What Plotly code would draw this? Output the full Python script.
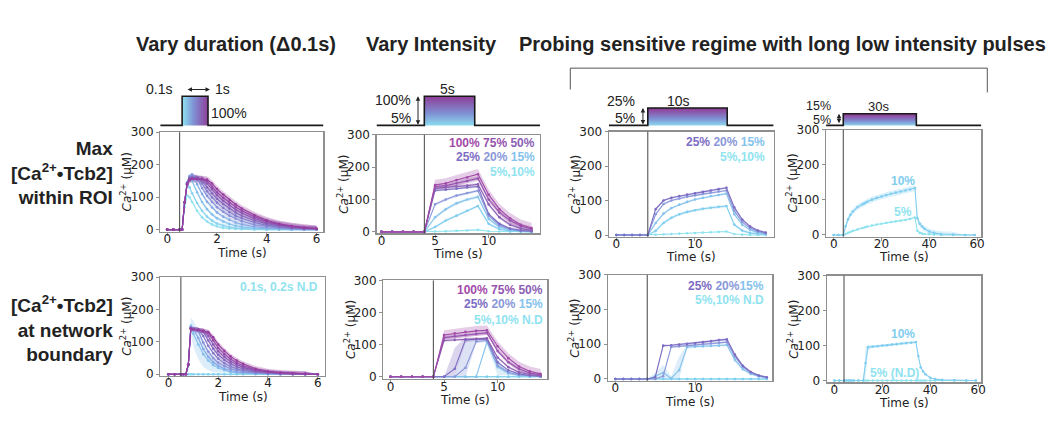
import numpy as np
import plotly.graph_objects as go

W, H = 1056, 442

# ======================= DATA =======================
# --- Vary duration: time grid (s) ---
t_dur = [0, 0.25, 0.5, 0.6, 0.7, 0.8, 0.9, 1.0, 1.2, 1.4, 1.6, 1.8, 2.0, 2.25, 2.5, 2.75, 3.0, 3.5, 4.0, 4.5, 5.0, 5.5, 6.0]
dur_names = ["0.1s", "0.2s", "0.3s", "0.4s", "0.5s", "0.6s", "0.7s", "0.8s", "0.9s", "1.0s"]

# Max within ROI
roi_d01 = [0, 0, 0, 0, 70, 105, 100, 85, 58, 38, 25, 16, 10, 5, 3, 2, 1, 0, 0, 0, 0, 0, 0]
roi_d02 = [0, 0, 0, 0, 80, 140, 130, 112, 82, 58, 40, 28, 19, 12, 7, 4, 3, 1, 0, 0, 0, 0, 0]
roi_d03 = [0, 0, 0, 0, 85, 145, 165, 150, 115, 85, 63, 47, 35, 25, 17, 12, 8, 4, 2, 1, 0, 0, 0]
roi_d04 = [0, 0, 0, 0, 85, 145, 165, 170, 140, 110, 86, 68, 53, 40, 30, 22, 16, 9, 5, 2, 1, 0, 0]
roi_d05 = [0, 0, 0, 0, 85, 145, 162, 167, 158, 128, 104, 85, 69, 55, 43, 34, 26, 15, 9, 5, 3, 1, 1]
roi_d06 = [0, 0, 0, 0, 85, 143, 160, 163, 160, 142, 118, 99, 83, 67, 54, 43, 35, 22, 13, 8, 4, 2, 1]
roi_d07 = [0, 0, 0, 0, 85, 142, 158, 160, 160, 152, 130, 112, 95, 79, 65, 53, 43, 28, 18, 11, 6, 3, 2]
roi_d08 = [0, 0, 0, 0, 84, 140, 156, 158, 158, 157, 142, 124, 106, 89, 75, 62, 51, 34, 22, 14, 8, 4, 2]
roi_d09 = [0, 0, 0, 0, 84, 140, 155, 157, 157, 156, 150, 132, 115, 98, 83, 70, 58, 40, 26, 16, 10, 5, 3]
roi_d10 = [0, 0, 0, 0, 83, 138, 153, 155, 155, 155, 154, 142, 125, 108, 92, 78, 65, 45, 29, 18, 11, 6, 3]
roi_dur_sd = [4, 5, 6, 6, 7, 8, 8, 9, 10, 10]

# At network boundary
bnd_d01 = [0] * 23
bnd_d02 = [0] * 23
bnd_d03 = [0, 0, 0, 0, 0, 30, 150, 125, 92, 62, 42, 28, 19, 12, 7, 4, 3, 1, 0, 0, 0, 0, 0]
bnd_d04 = [0, 0, 0, 0, 0, 30, 145, 140, 112, 78, 54, 37, 26, 17, 11, 7, 5, 2, 1, 0, 0, 0, 0]
bnd_d05 = [0, 0, 0, 0, 0, 30, 145, 140, 133, 98, 70, 50, 36, 25, 17, 12, 8, 4, 2, 1, 0, 0, 0]
bnd_d06 = [0, 0, 0, 0, 0, 30, 143, 140, 138, 118, 88, 65, 48, 34, 24, 17, 12, 6, 3, 1, 1, 0, 0]
bnd_d07 = [0, 0, 0, 0, 0, 30, 142, 140, 138, 131, 104, 79, 60, 44, 32, 23, 17, 9, 4, 2, 1, 0, 0]
bnd_d08 = [0, 0, 0, 0, 0, 30, 141, 139, 137, 134, 118, 92, 71, 53, 39, 29, 21, 11, 6, 3, 1, 1, 0]
bnd_d09 = [0, 0, 0, 0, 0, 30, 140, 139, 137, 134, 128, 104, 81, 62, 47, 35, 26, 14, 7, 4, 2, 1, 0]
bnd_d10 = [0, 0, 0, 0, 0, 30, 140, 138, 136, 133, 130, 114, 92, 72, 55, 42, 32, 17, 9, 5, 2, 1, 0]
bnd_d03_sd = [0, 0, 0, 0, 0, 30, 25, 40, 45, 40, 30, 22, 15, 8, 4, 2, 1, 0, 0, 0, 0, 0, 0]
bnd_dur_sd = [0, 0, bnd_d03_sd, 6, 6, 6, 6, 7, 7, 8]

# --- Vary intensity (5 s pulse) ---
t_int = [0, 1, 2, 3, 4, 5, 6, 7, 8, 9, 10, 11, 12, 13, 14]
int_names = ["5%", "10%", "15%", "20%", "25%", "50%", "75%", "100%"]
roi_i05 = [0, 0, 0, 0, 0, 1, 2, 3, 4, 6, 2, 1, 0, 0, 0]
roi_i10 = [0, 0, 0, 0, 0, 15, 35, 50, 65, 80, 25, 8, 3, 1, 0]
roi_i15 = [0, 0, 0, 0, 0, 45, 70, 88, 100, 108, 40, 15, 6, 2, 1]
roi_i20 = [0, 0, 0, 0, 0, 85, 100, 112, 120, 127, 50, 20, 8, 3, 1]
roi_i25 = [0, 0, 0, 0, 0, 128, 130, 133, 137, 140, 55, 25, 10, 4, 2]
roi_i50 = [0, 0, 0, 0, 0, 135, 137, 140, 143, 147, 85, 45, 22, 10, 5]
roi_i75 = [0, 0, 0, 0, 0, 140, 143, 150, 157, 165, 100, 60, 35, 18, 9]
roi_i100 = [0, 0, 0, 0, 0, 145, 150, 160, 168, 178, 115, 70, 42, 22, 12]
roi_int_sd = [1, 4, 5, 4, 4, 5, 8, 16]

bnd_i05 = [0] * 15
bnd_i10 = [0] * 15
bnd_i15 = [0, 0, 0, 0, 0, 0, 0, 0, 0, 108, 30, 10, 4, 2, 1]
bnd_i20 = [0, 0, 0, 0, 0, 0, 0, 28, 110, 113, 35, 14, 6, 3, 1]
bnd_i25 = [0, 0, 0, 0, 0, 0, 25, 115, 117, 118, 45, 20, 9, 4, 2]
bnd_i50 = [0, 0, 0, 0, 0, 113, 115, 117, 118, 120, 60, 30, 14, 7, 3]
bnd_i75 = [0, 0, 0, 0, 0, 122, 126, 130, 133, 137, 80, 45, 24, 12, 6]
bnd_i100 = [0, 0, 0, 0, 0, 130, 135, 140, 143, 145, 95, 58, 32, 17, 9]
bnd_i15_sd = [0, 0, 0, 0, 0, 0, 0, 0, 0, 8, 25, 5, 2, 1, 0]
bnd_i20_sd = [0, 0, 0, 0, 0, 0, 0, 85, 6, 5, 4, 2, 1, 1, 0]
bnd_i25_sd = [0, 0, 0, 0, 0, 0, 65, 8, 4, 4, 3, 2, 1, 1, 0]
bnd_int_sd = [0, 0, bnd_i15_sd, bnd_i20_sd, bnd_i25_sd, 4, 6, 15]

# --- Long 10 s low-intensity pulses ---
t_long = [0, 1, 2, 3, 4, 5, 6, 7, 8, 9, 10, 11, 12, 13, 14, 15, 16, 17, 18, 19]
long_names = ["5%", "10%", "15%", "20%", "25%"]
roi_l05 = [0, 0, 0, 0, 0, 1, 2, 3, 4, 5, 6, 7, 8, 9, 10, 3, 1, 0, 0, 0]
roi_l10 = [0, 0, 0, 0, 0, 12, 35, 50, 60, 67, 72, 76, 79, 82, 84, 30, 13, 6, 3, 1]
roi_l15 = [0, 0, 0, 0, 0, 35, 62, 78, 88, 96, 103, 108, 113, 116, 120, 60, 30, 15, 7, 3]
roi_l20 = [0, 0, 0, 0, 0, 60, 90, 100, 106, 111, 115, 119, 123, 126, 129, 70, 38, 20, 10, 5]
roi_l25 = [0, 0, 0, 0, 0, 75, 100, 108, 113, 117, 121, 125, 129, 133, 137, 80, 45, 25, 13, 7]
roi_long_sd = [1, 4, 3, 3, 3]

bnd_l05 = [0] * 20
bnd_l10 = [0] * 20
bnd_l15 = [0, 0, 0, 0, 0, 8, 18, 2, 25, 92, 93, 94, 95, 96, 98, 55, 28, 14, 7, 3]
bnd_l20 = [0, 0, 0, 0, 0, 0, 8, 92, 94, 96, 98, 100, 102, 104, 106, 65, 35, 18, 9, 4]
bnd_l25 = [0, 0, 0, 0, 0, 5, 96, 97, 99, 101, 103, 106, 109, 112, 114, 70, 38, 20, 10, 5]
bnd_l15_sd = [0, 0, 0, 0, 0, 10, 22, 5, 40, 6, 3, 3, 3, 3, 3, 6, 3, 2, 1, 0]
bnd_long_sd = [0, 0, bnd_l15_sd, 3, 3]

# --- Very long 30 s pulses ---
t_vlong = [0, 2, 4, 5, 6, 7, 8, 10, 12, 13, 14, 16, 18, 20, 22, 24, 26, 28, 30, 32, 34, 35, 36, 37, 38, 40, 42, 45, 50, 55, 59]
vlong_names = ["5%", "10%"]
roi_v05 = [0, 0, 0, 3, 6, 9, 12, 16, 20, 22, 24, 27, 30, 32, 35, 37, 39, 41, 43, 46, 50, 12, 6, 4, 3, 2, 1, 0, 0, 0, 0]
roi_v10 = [0, 0, 0, 25, 45, 58, 67, 80, 88, 91, 95, 101, 106, 110, 114, 118, 121, 124, 127, 130, 134, 48, 32, 24, 18, 10, 6, 3, 1, 0, 0]
roi_vlong_sd = [2, 8]
bnd_v05 = [0] * 31
bnd_v10 = [0, 0, 0, 0, 0, 0, 0, 0, 0, 50, 95, 97, 98, 100, 101, 103, 104, 106, 107, 108, 110, 70, 38, 26, 18, 8, 4, 2, 1, 0, 0]
bnd_v10_sd = [0, 0, 0, 0, 0, 0, 0, 0, 0, 45, 8, 4, 4, 4, 4, 4, 4, 4, 4, 4, 4, 5, 4, 3, 2, 1, 1, 0, 0, 0, 0]
bnd_vlong_sd = [0, bnd_v10_sd]

# Stimulus protocol (s)
stim_on = [0.6, 4.0, 4.0, 4.0]
stim_off = [1.64, 8.7, 14.1, 34.6]
onset = [0.5, 4.0, 4.0, 4.0]

# ======================= STYLE =======================
dur_colors = ['#8fe1f0', '#86d2ef', '#84c0ec', '#86a8e4', '#8790d8',
              '#8379c9', '#8566bd', '#8b57b3', '#9249a9', '#973e9f']
int_col = {"5%": '#8fe3ef', "10%": '#7fcdef', "15%": '#85c2ec', "20%": '#8a98da',
           "25%": '#7c6cc3', "50%": '#8c5fb4', "75%": '#9553ad', "100%": '#a24aa8'}
stim_level = [1.0, 1.0, 0.6, 0.4]
grad = [[0, '#8ee3f2'], [0.45, '#7f8fd3'], [1, '#8f3e98']]

# axis boxes in pixels: left, right, top, bottom, xrange, yrange, xticks
AX = {
    1: (161, 325, 129, 231.7, [-0.28, 6.28], [-7, 300], [0, 2, 4, 6]),
    2: (378.3, 542.7, 131.7, 233.3, [-0.46, 14.8], [-5, 300], [0, 5, 10]),
    3: (611.7, 777.3, 128.3, 236.7, [-0.96, 20.0], [-5, 300], [0, 10]),
    4: (830, 986, 126.7, 236.7, [-3.2, 61.8], [-5, 300], [0, 20, 40, 60]),
    5: (161, 326.7, 278.3, 380, [-0.33, 6.3], [-5, 300], [0, 2, 4, 6]),
    6: (385, 550, 281.7, 383.3, [-0.68, 14.64], [-7, 300], [0, 5, 10]),
    7: (610.7, 776, 276, 385, [-0.95, 19.7], [-5, 300], [0, 10]),
    8: (830.7, 986, 276.7, 386.7, [-3.2, 61.3], [-5, 300], [0, 20, 40, 60]),
}
xtitle_y = {1: 253, 2: 254, 3: 258, 4: 258, 5: 402, 6: 405, 7: 407, 8: 408}


def hex2rgba(h, a):
    h = h.lstrip('#')
    return 'rgba(%d,%d,%d,%.2f)' % (int(h[0:2], 16), int(h[2:4], 16), int(h[4:6], 16), a)


def pxx(p):
    return p / W


def pxy(p):
    return 1 - p / H


fig = go.Figure()
layout = dict(width=W, height=H, margin=dict(l=0, r=0, t=0, b=0), autosize=False,
              paper_bgcolor='white', plot_bgcolor='white', showlegend=False,
              hovermode=False)
annotations = []
shapes = []

tickfont = dict(family='DejaVu Sans', size=12, color='#222')
for k, (l, r, t, b, xr, yr, xt) in AX.items():
    xs = 'xaxis' if k == 1 else 'xaxis%d' % k
    ys = 'yaxis' if k == 1 else 'yaxis%d' % k
    layout[xs] = dict(domain=[pxx(l), pxx(r)], range=xr, anchor='y' if k == 1 else 'y%d' % k,
                      tickvals=xt, showgrid=False, zeroline=False, showline=True, mirror=True,
                      linecolor='#8f8f8f', linewidth=1.2, ticks='outside', ticklen=3,
                      tickcolor='#8f8f8f', tickfont=tickfont, ticklabelstandoff=-7)
    layout[ys] = dict(domain=[pxy(b), pxy(t)], range=yr, anchor='x' if k == 1 else 'x%d' % k,
                      tickvals=[0, 100, 200, 300], showgrid=False, zeroline=False, showline=True,
                      mirror=True, linecolor='#8f8f8f', linewidth=1.2, ticks='outside', ticklen=3,
                      tickcolor='#8f8f8f', tickfont=tickfont)
    annotations.append(dict(text='Time (s)', x=pxx((l + r) / 2), y=pxy(xtitle_y[k]), xref='paper',
                            yref='paper', showarrow=False, xanchor='center', yanchor='middle',
                            font=dict(family='DejaVu Sans', size=12, color='#222')))
    annotations.append(dict(text='<i>Ca</i><sup>2+</sup> (μM)', x=pxx(l - 34), y=pxy((t + b) / 2),
                            xref='paper', yref='paper', showarrow=False, xanchor='center',
                            yanchor='middle', textangle=-90,
                            font=dict(family='DejaVu Sans', size=12, color='#222')))

# stimulus axes 9..12 above top row
for i in range(4):
    k = 9 + i
    l, r, t, b, xr, yr, xt = AX[1 + i]
    layout['xaxis%d' % k] = dict(domain=[pxx(l), pxx(r)], range=xr, visible=False,
                                 anchor='y%d' % k)
    layout['yaxis%d' % k] = dict(domain=[pxy(126), pxy(80)], range=[-0.133, 1.4], visible=False,
                                 anchor='x%d' % k)


def axn(k):
    return ('x' if k == 1 else 'x%d' % k), ('y' if k == 1 else 'y%d' % k)


def add_panel(k, t, series, sds, colors):
    xa, ya = axn(k)
    t = np.array(t, dtype=float)
    lines = []
    for y, s, c in zip(series, sds, colors):
        y = np.array(y, dtype=float)
        if isinstance(s, list):
            sd = np.array(s, dtype=float)
        else:
            sd = np.where(y > 0, float(s), 0.0)
        up = y + sd
        lo = np.maximum(y - sd, 0)
        if sd.max() > 0:
            fig.add_trace(go.Scatter(x=np.concatenate([t, t[::-1]]), y=np.concatenate([up, lo[::-1]]),
                                     fill='toself', fillcolor=hex2rgba(c, 0.28), line=dict(width=0),
                                     mode='lines', xaxis=xa, yaxis=ya, hoverinfo='skip'))
        lines.append((y, c))
    for y, c in lines:
        fig.add_trace(go.Scatter(x=t, y=y, mode='lines+markers', line=dict(color=c, width=1.1),
                                 marker=dict(size=2.6, color=c), xaxis=xa, yaxis=ya))


add_panel(1, t_dur, [roi_d01, roi_d02, roi_d03, roi_d04, roi_d05, roi_d06, roi_d07, roi_d08, roi_d09, roi_d10],
          roi_dur_sd, dur_colors)
add_panel(5, t_dur, [bnd_d01, bnd_d02, bnd_d03, bnd_d04, bnd_d05, bnd_d06, bnd_d07, bnd_d08, bnd_d09, bnd_d10],
          bnd_dur_sd, dur_colors)
icol = [int_col[n] for n in int_names]
add_panel(2, t_int, [roi_i05, roi_i10, roi_i15, roi_i20, roi_i25, roi_i50, roi_i75, roi_i100], roi_int_sd, icol)
add_panel(6, t_int, [bnd_i05, bnd_i10, bnd_i15, bnd_i20, bnd_i25, bnd_i50, bnd_i75, bnd_i100], bnd_int_sd, icol)
lcol = [int_col[n] for n in long_names]
add_panel(3, t_long, [roi_l05, roi_l10, roi_l15, roi_l20, roi_l25], roi_long_sd, lcol)
add_panel(7, t_long, [bnd_l05, bnd_l10, bnd_l15, bnd_l20, bnd_l25], bnd_long_sd, lcol)
vcol = [int_col[n] for n in vlong_names]
add_panel(4, t_vlong, [roi_v05, roi_v10], roi_vlong_sd, vcol)
add_panel(8, t_vlong, [bnd_v05, bnd_v10], bnd_vlong_sd, vcol)

# onset lines
for i in range(4):
    for k in (1 + i, 5 + i):
        xa, ya = axn(k)
        shapes.append(dict(type='line', xref=xa, yref=ya + ' domain', x0=onset[i], x1=onset[i],
                           y0=0, y1=1, line=dict(color='#444', width=1)))

# stimulus pulses
for i in range(4):
    k = 9 + i
    xa, ya = 'x%d' % k, 'y%d' % k
    on, off, h = stim_on[i], stim_off[i], stim_level[i]
    xr = AX[1 + i][4]
    if i == 0:
        fg = dict(type='horizontal', colorscale=grad, start=on, stop=off)
    else:
        fg = dict(type='vertical', colorscale=grad, start=0, stop=h)
    fig.add_trace(go.Scatter(x=[on, on, off, off, on], y=[0, h, h, 0, 0], fill='toself',
                             fillgradient=fg, line=dict(width=0), mode='lines', xaxis=xa, yaxis=ya))
    fig.add_trace(go.Scatter(x=[xr[0], on, on, off, off, xr[1]], y=[0, 0, h, h, 0, 0], mode='lines',
                             line=dict(color='#1a1a1a', width=1.6), xaxis=xa, yaxis=ya))


def txt(text, x, y, size=14, color='#222', family='Liberation Sans', xanchor='center', bold=False):
    if bold:
        text = '<b>' + text + '</b>'
    annotations.append(dict(text=text, x=pxx(x), y=pxy(y), xref='paper', yref='paper',
                            showarrow=False, xanchor=xanchor, yanchor='middle',
                            font=dict(family=family, size=size, color=color)))


def darrow(x0, y0, x1, y1):
    annotations.append(dict(text='', x=pxx(x1), y=pxy(y1), ax=x0 - x1, ay=y0 - y1, xref='paper',
                            yref='paper', axref='pixel', ayref='pixel', showarrow=True,
                            arrowside='end+start', arrowhead=2, arrowsize=0.9, arrowwidth=1,
                            arrowcolor='#222', standoff=0, startstandoff=0))


# stimulus labels
txt('0.1s', 160, 85)
txt('1s', 224, 85)
txt('100%', 230, 109)
darrow(187, 85, 211, 85)
txt('5s', 450, 84)
txt('100%', 415, 96, xanchor='right')
txt('5%', 415, 114, xanchor='right')
darrow(420, 122, 420, 92)
txt('10s', 682, 97)
txt('25%', 640, 97, xanchor='right')
txt('5%', 640, 114, xanchor='right')
darrow(646, 122, 646, 104)
txt('30s', 883, 102, size=13)
txt('15%', 837, 101.5, size=12.5, xanchor='right')
txt('5%', 837, 116, size=12.5, xanchor='right')
darrow(843, 121, 843, 110)

# titles
txt('Vary duration (Δ0.1s)', 237, 38, size=20, bold=True)
txt('Vary Intensity', 434, 38, size=20, bold=True)
txt('Probing sensitive regime with long low intensity pulses', 786, 38, size=20, bold=True)
annotations.append(dict(text='<b>Max<br>[Ca<sup>2+</sup>•Tcb2]<br>within ROI</b>', x=pxx(116), y=pxy(171),
                        xref='paper', yref='paper', showarrow=False, xanchor='right', yanchor='middle',
                        align='right', font=dict(family='Liberation Sans', size=19, color='#222')))
annotations.append(dict(text='<b>[Ca<sup>2+</sup>•Tcb2]<br>at network<br>boundary</b>', x=pxx(116), y=pxy(331),
                        xref='paper', yref='paper', showarrow=False, xanchor='right', yanchor='middle',
                        align='right', font=dict(family='Liberation Sans', size=19, color='#222')))

# bracket
shapes.append(dict(type='path', xref='paper', yref='paper',
                   path='M %f %f L %f %f L %f %f L %f %f' % (pxx(573), pxy(85), pxx(573), pxy(63),
                                                             pxx(992), pxy(63), pxx(992), pxy(88)),
                   line=dict(color='#555', width=1)))


def span(t, c):
    return '<span style="color:%s">%s</span>' % (c, t)


C = int_col
L = 12
txt(span('100%', C['100%']) + ' ' + span('75%', C['75%']) + ' ' + span('50%', C['50%']), 540, 140, size=L, xanchor='right', bold=True)
txt(span('25%', C['25%']) + ' ' + span('20%', C['20%']) + ' ' + span('15%', C['15%']), 540, 155, size=L, xanchor='right', bold=True)
txt(span('5%,10%', C['5%']), 540, 170, size=L, xanchor='right', bold=True)
txt(span('100%', C['100%']) + ' ' + span('75%', C['75%']) + ' ' + span('50%', C['50%']), 548, 292, size=L, xanchor='right', bold=True)
txt(span('25%', C['25%']) + ' ' + span('20%', C['20%']) + ' ' + span('15%', C['15%']), 548, 306, size=L, xanchor='right', bold=True)
txt(span('5%,10% N.D', C['5%']), 548, 322, size=L, xanchor='right', bold=True)
txt(span('0.1s, 0.2s N.D', C['5%']), 322, 288, size=L, xanchor='right', bold=True)
txt(span('25%', C['25%']) + ' ' + span('20%', C['20%']) + ' ' + span('15%', C['15%']), 771, 139, size=L, xanchor='right', bold=True)
txt(span('5%,10%', C['5%']), 771, 155, size=L, xanchor='right', bold=True)
txt(span('25%', C['25%']) + ' ' + span('20%', C['20%']) + span('15%', C['15%']), 770, 287, size=L, xanchor='right', bold=True)
txt(span('5%,10% N.D', C['5%']), 770, 302, size=L, xanchor='right', bold=True)
txt(span('10%', C['10%']), 907, 179, size=L, bold=True)
txt(span('5%', C['5%']), 907, 211, size=L, bold=True)
txt(span('10%', C['10%']), 907, 337, size=L, bold=True)
txt(span('5% (N.D)', C['5%']), 899, 377, size=L, bold=True)

layout['annotations'] = annotations
layout['shapes'] = shapes
fig.update_layout(**layout)
# the page's default 8px body margin would offset the whole figure; remove it
fig.write_html('out.html', config={'displayModeBar': False, 'staticPlot': True},
               post_script="document.body.style.margin='0px';")
